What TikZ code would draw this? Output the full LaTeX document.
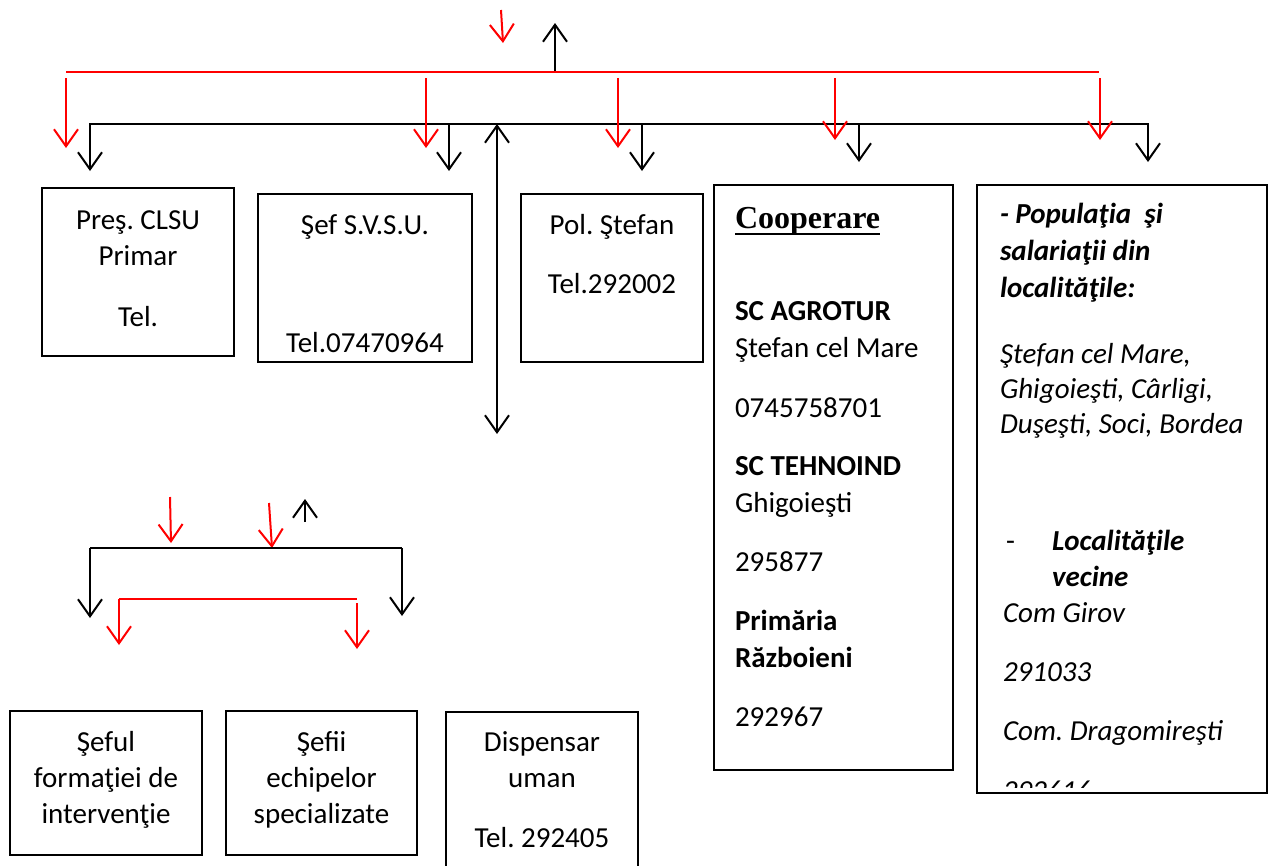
\documentclass[tikz,border=0pt]{standalone}
\usepackage{fontspec}
\setmainfont{Carlito}
\newfontfamily\tnr{Liberation Serif}
\usetikzlibrary{arrows.meta}
\frenchspacing
\begin{document}
\begin{tikzpicture}[x=1pt,y=-1pt,
  box/.style={draw, line width=1.8pt, inner sep=0pt, outer sep=0pt},
  txt/.style={inner sep=0pt, outer sep=0pt, font=\fontsize{29}{35}\selectfont},
  ctxt/.style={txt, anchor=base},
  ltxt/.style={txt, anchor=base west},
  btxt/.style={ltxt, font=\fontsize{29}{35}\selectfont\bfseries},
  bitxt/.style={ltxt, font=\fontsize{29}{35}\selectfont\bfseries\itshape},
  itxt/.style={ltxt, font=\fontsize{29}{35}\selectfont\itshape},
  blk/.style={line width=2pt, black},
  redl/.style={line width=2pt, red},
  arr/.style={-{Straight Barb[length=17pt,width=24pt]}},
  darr/.style={{Straight Barb[length=17pt,width=24pt]}-{Straight Barb[length=17pt,width=24pt]}}
]
\useasboundingbox (0,0) rectangle (1277,865);

% ---------- boxes ----------
\node[box, minimum width=192pt, minimum height=168pt] (b1) at (138,272) {};
\node[box, minimum width=214pt, minimum height=168pt] (b2) at (365,278) {};
\node[box, minimum width=182pt, minimum height=168pt] (b3) at (612,278) {};
\node[box, minimum width=239pt, minimum height=585pt] (coop) at (833.5,477.5) {};
\node[box, minimum width=290pt, minimum height=608pt] (pop) at (1122,489) {};
\node[box, minimum width=192pt, minimum height=144pt] (ba) at (106,783) {};
\node[box, minimum width=191pt, minimum height=144pt] (bb) at (321.5,783) {};
\node[box, minimum width=192pt, minimum height=170pt] (bc) at (542,797) {};

% ---------- texts of the boxes ----------
\node[ctxt] (t1a) at (138,229) {Preş. CLSU};
\node[ctxt] (t1b) at (138,265) {Primar};
\node[ctxt] (t1c) at (138,326) {Tel.};

\node[ctxt] (t2a) at (365,234) {Şef S.V.S.U.};
\node[ctxt] (t2b) at (365,352) {Tel.07470964};

\node[ctxt] (t3a) at (612,234) {Pol. Ştefan};
\node[ctxt] (t3b) at (612,293) {Tel.292002};

\node[inner sep=0pt, outer sep=0pt, anchor=base west, font=\tnr\bfseries\fontsize{32}{36}\selectfont] (c0) at (735,228) {Cooperare};
\draw[line width=2.6pt] ([yshift=-6pt]c0.base west) -- ([yshift=-6pt]c0.base east);
\node[btxt] (c1) at (735,320) {SC AGROTUR};
\node[ltxt] (c2) at (735,357) {Ştefan cel Mare};
\node[ltxt] (c3) at (735,417) {0745758701};
\node[btxt] (c4) at (735,475) {SC TEHNOIND};
\node[ltxt] (c5) at (735,512) {Ghigoieşti};
\node[ltxt] (c6) at (735,571) {295877};
\node[btxt] (c7) at (735,630) {Primăria};
\node[btxt] (c8) at (735,667) {Războieni};
\node[ltxt] (c9) at (735,726) {292967};

\begin{scope}
\clip (977,185) rectangle (1267,787);
\node[bitxt] (p1) at (1000,223) {- Populaţia \ şi};
\node[bitxt] (p2) at (1000,260) {salariaţii din};
\node[bitxt] (p3) at (1000,297) {localităţile:};
\node[itxt] (p4) at (1000,363) {Ştefan cel Mare,};
\node[itxt] (p5) at (1000,398) {Ghigoieşti, Cârligi,};
\node[itxt] (p6) at (1000,433) {Duşeşti, Soci, Bordea};
\node[ltxt] (p7) at (1006,550) {-};
\node[bitxt] (p8) at (1052,550) {Localităţile};
\node[bitxt] (p9) at (1052,586) {vecine};
\node[itxt] (p10) at (1003,622) {Com Girov};
\node[itxt] (p11) at (1003,681) {291033};
\node[itxt] (p12) at (1003,740) {Com. Dragomireşti};
\node[itxt] (p13) at (1003,800) {292616};
\end{scope}

\node[ctxt] (ta1) at (106,751) {Şeful};
\node[ctxt] (ta2) at (106,787) {formaţiei de};
\node[ctxt] (ta3) at (106,823) {intervenţie};
\node[ctxt] (tb1) at (321.5,751) {Şefii};
\node[ctxt] (tb2) at (321.5,787) {echipelor};
\node[ctxt] (tb3) at (321.5,823) {specializate};
\node[ctxt] (tc1) at (542,751) {Dispensar};
\node[ctxt] (tc2) at (542,787) {uman};
\node[ctxt] (tc3) at (542,847) {Tel. 292405};

% ---------- top connectors ----------
\coordinate (rs0) at (501,10);  \coordinate (rs1) at (503,43);
\coordinate (up0) at (555,71);  \coordinate (up1) at (555,23);
\coordinate (rl0) at (66,72);   \coordinate (rl1) at (1099,72);
\coordinate (bl0) at (90,124);  \coordinate (bl1) at (1148,124);

\draw[redl, arr] (rs0) -- (rs1);
\draw[blk, arr] (up0) -- (up1);
\draw[redl] (rl0) -- (rl1);
\draw[blk] (bl0) -- (bl1);

\foreach \x/\t [count=\i] in {66/148, 426/148, 618/148, 835/140, 1100/140}{
  \coordinate (rd\i s) at (\x,78);
  \coordinate (rd\i e) at (\x,\t);
  \draw[redl, arr] (rd\i s) -- (rd\i e);
}
\foreach \x/\t [count=\i] in {90/171, 449/171, 642/171, 859/162, 1148/162}{
  \coordinate (bd\i s) at (\x,123);
  \coordinate (bd\i e) at (\x,\t);
  \draw[blk, arr] (bd\i s) -- (bd\i e);
}
\coordinate (dv0) at (497,124); \coordinate (dv1) at (497,434);
\draw[blk, darr] (dv0) -- (dv1);

% ---------- lower connectors ----------
\coordinate (lr1s) at (170,497); \coordinate (lr1e) at (171,543);
\coordinate (lr2s) at (269,503); \coordinate (lr2e) at (272,548);
\coordinate (lu0) at (305,522);  \coordinate (lu1) at (305,499);
\draw[redl, arr] (lr1s) -- (lr1e);
\draw[redl, arr] (lr2s) -- (lr2e);
\draw[blk, arr] (lu0) -- (lu1);

\coordinate (lb0) at (90,548);  \coordinate (lb1) at (402,548);
\coordinate (lb0e) at (90,618); \coordinate (lb1e) at (402,616);
\draw[blk, arr] (lb1) -- (lb1e);
\draw[blk, arr] (lb0) -- (lb0e);
\draw[blk] (lb0) -- (lb1);

\coordinate (lq0) at (119,599); \coordinate (lq1) at (357,599);
\coordinate (lq0e) at (119,645); \coordinate (lq1s) at (357,603); \coordinate (lq1e) at (357,649);
\draw[redl] (lq0) -- (lq1);
\draw[redl, arr] (lq0) -- (lq0e);
\draw[redl, arr] (lq1s) -- (lq1e);
\end{tikzpicture}
\end{document}
